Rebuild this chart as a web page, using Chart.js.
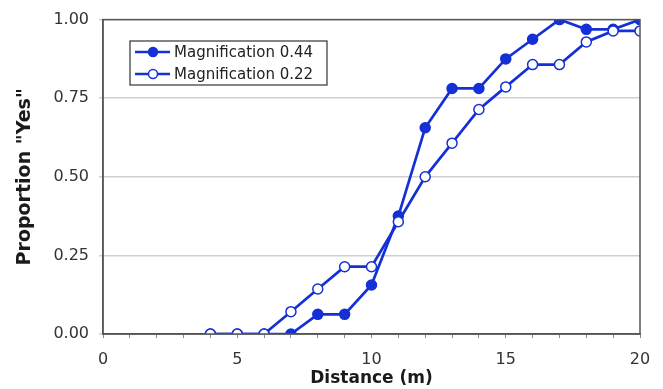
<!DOCTYPE html>
<html>
<head>
<meta charset="utf-8">
<script src="https://cdn.jsdelivr.net/npm/chart.js@4/dist/chart.umd.min.js"></script>
<style>
  html, body { margin: 0; padding: 0; background: #fff; }
  #wrap { width: 663px; height: 389px; position: relative; }
</style>
</head>
<body>
<div id="wrap"><canvas id="myChart"></canvas></div>
<script>
// values
var distance = [4, 5, 6, 7, 8, 9, 10, 11, 12, 13, 14, 15, 16, 17, 18, 19, 20];
var mag044 = [0, 0, 0, 0, 0.0625, 0.0625, 0.156, 0.375, 0.656, 0.781, 0.781, 0.875, 0.9375, 1.0, 0.969, 0.969, 1.0];
var mag022 = [0, 0, 0, 0.071, 0.143, 0.214, 0.214, 0.357, 0.5, 0.607, 0.714, 0.786, 0.857, 0.857, 0.929, 0.964, 0.964];
var seriesNames = ["Magnification 0.44", "Magnification 0.22"];
var yTicks = [0, 0.25, 0.5, 0.75, 1];

var blue = "#1430d6";
var font = "'DejaVu Sans', Verdana, sans-serif";

function toPoints(ys) {
  return distance.map(function (d, i) { return { x: d, y: ys[i] }; });
}

// frame round the plot + legend box inside it
var framePlugin = {
  id: "frame",
  afterDatasetsDraw: function (chart) {
    var ctx = chart.ctx;
    var a = chart.chartArea;
    ctx.save();
    ctx.strokeStyle = "#555";
    ctx.lineWidth = 1.5;
    ctx.strokeRect(a.left, a.top, a.right - a.left, a.bottom - a.top);

    // legend
    var bx = 130, by = 41, bw = 197, bh = 44;
    ctx.fillStyle = "#fff";
    ctx.fillRect(bx, by, bw, bh);
    ctx.strokeStyle = "#333";
    ctx.lineWidth = 1.2;
    ctx.strokeRect(bx, by, bw, bh);
    ctx.font = "15px " + font;
    ctx.textBaseline = "middle";
    chart.data.datasets.forEach(function (ds, i) {
      var cy = by + 11 + i * 22;
      ctx.strokeStyle = blue;
      ctx.lineWidth = 2.5;
      ctx.beginPath();
      ctx.moveTo(bx + 5, cy);
      ctx.lineTo(bx + 40, cy);
      ctx.stroke();
      ctx.beginPath();
      ctx.arc(bx + 23, cy, 4.5, 0, Math.PI * 2);
      ctx.fillStyle = ds.pointBackgroundColor;
      ctx.fill();
      ctx.lineWidth = 1.5;
      ctx.stroke();
      ctx.fillStyle = "#222";
      ctx.fillText(ds.label, bx + 44, cy + 1);
    });
    ctx.restore();
  }
};

var ctx = document.getElementById("myChart").getContext("2d");
var chart = new Chart(ctx, {
  type: "line",
  data: {
    datasets: [
      {
        label: seriesNames[0],
        data: toPoints(mag044),
        borderColor: blue,
        borderWidth: 2.7,
        pointBackgroundColor: blue,
        pointBorderColor: blue,
        pointBorderWidth: 1.5,
        pointRadius: 5,
        order: 2
      },
      {
        label: seriesNames[1],
        data: toPoints(mag022),
        borderColor: blue,
        borderWidth: 2.7,
        pointBackgroundColor: "#fff",
        pointBorderColor: blue,
        pointBorderWidth: 1.5,
        pointRadius: 5,
        order: 1
      }
    ]
  },
  options: {
    responsive: true,
    maintainAspectRatio: false,
    animation: false,
    layout: { padding: { top: 19, right: 23, left: 0, bottom: 0 } },
    plugins: {
      legend: { display: false },
      tooltip: { enabled: false }
    },
    scales: {
      x: {
        type: "linear",
        min: 0,
        max: 20,
        afterFit: function (scale) { scale.height = 55; },
        ticks: {
          stepSize: 1,
          autoSkip: false,
          maxRotation: 0,
          color: "#333",
          font: { family: font, size: 16 },
          padding: 12,
          callback: function (v) { return v % 5 === 0 ? v : ""; }
        },
        grid: { drawOnChartArea: false, color: "#888", tickLength: 4 },
        border: { color: "#555", width: 1.5 },
        title: {
          display: true,
          text: "Distance (m)",
          color: "#1a1a1a",
          font: { family: font, size: 17, weight: "bold" },
          padding: { top: 0, bottom: 0 }
        }
      },
      y: {
        min: 0,
        max: 1,
        afterFit: function (scale) { scale.width = 103; },
        afterBuildTicks: function (scale) {
          scale.ticks = yTicks.map(function (v) { return { value: v }; });
        },
        ticks: {
          color: "#333",
          font: { family: font, size: 16 },
          padding: 10,
          callback: function (v) { return Number(v).toFixed(2); }
        },
        grid: { color: "#cfcfcf", lineWidth: 1.5, tickLength: 4 },
        border: { color: "#555", width: 1.5 },
        title: {
          display: true,
          text: "Proportion \"Yes\"",
          color: "#1a1a1a",
          font: { family: font, size: 19, weight: "bold" },
          padding: { top: 14, bottom: 0 }
        }
      }
    }
  },
  plugins: [framePlugin]
});
</script>
</body>
</html>
